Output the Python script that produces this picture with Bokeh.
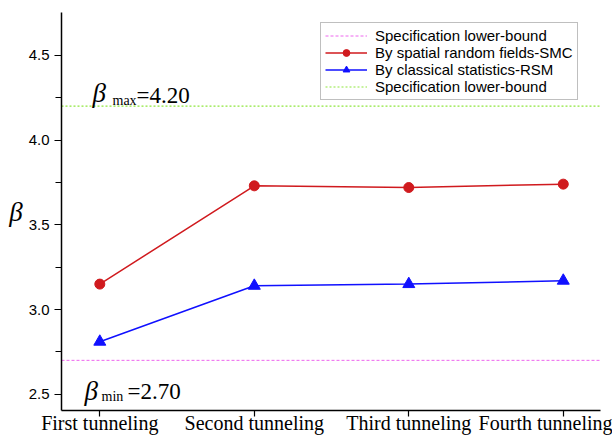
from bokeh.plotting import figure
from bokeh.models import (Range1d, FixedTicker, Legend, LegendItem, Label,
                          PrintfTickFormatter)
from bokeh.embed import file_html
from bokeh.resources import INLINE

# ---- data ----
categories = ["First tunneling", "Second tunneling", "Third tunneling", "Fourth tunneling"]
smc_values = [3.15, 3.73, 3.72, 3.74]
rsm_values = [2.81, 3.14, 3.15, 3.17]
beta_max = 4.20
beta_min = 2.70
y_ticks = [2.5, 3.0, 3.5, 4.0, 4.5]
y_minor = [2.75, 3.25, 3.75, 4.25]
legend_labels = ["Specification lower-bound", "By spatial random fields-SMC",
                 "By classical statistics-RSM", "Specification lower-bound"]

x_idx = list(range(len(categories)))
X0, X1 = -0.248, 3.241
Y0, Y1 = 2.404, 4.753

SERIF = "Liberation Serif"
SANS = "Liberation Sans"

p = figure(width=612, height=439, output_backend="svg", toolbar_location=None,
           x_range=Range1d(X0, X1), y_range=Range1d(Y0, Y1),
           min_border_left=61, min_border_right=12, min_border_top=12, min_border_bottom=29)
p.outline_line_color = None
p.grid.visible = False
p.background_fill_color = "white"
p.border_fill_color = "white"

# x axis
xa = p.xaxis[0]
xa.ticker = FixedTicker(ticks=x_idx, minor_ticks=[])
xa.major_label_overrides = {i: c for i, c in zip(x_idx, categories)}
xa.major_label_text_font = SERIF
xa.major_label_text_font_size = "20px"
xa.major_label_text_color = "black"
xa.major_label_standoff = -5
xa.major_tick_out = 6
xa.major_tick_in = 0
xa.minor_tick_out = 0
xa.axis_line_width = 1.5
xa.axis_line_color = "black"
xa.major_tick_line_color = "black"
xa.major_tick_line_width = 1.2

# y axis
ya = p.yaxis[0]
ya.ticker = FixedTicker(ticks=y_ticks, minor_ticks=y_minor)
ya.formatter = PrintfTickFormatter(format="%.1f")
ya.major_label_text_font = SANS
ya.major_label_text_font_size = "15px"
ya.major_label_text_color = "black"
ya.major_tick_out = 7
ya.major_tick_in = 0
ya.minor_tick_out = 6
ya.minor_tick_in = 0
ya.major_label_standoff = 5
ya.axis_line_width = 1.5
ya.axis_line_color = "black"
ya.major_tick_line_color = "black"
ya.minor_tick_line_color = "black"
ya.major_tick_line_width = 1.2
ya.minor_tick_line_width = 1.2
ya.axis_label = "β"
ya.axis_label_orientation = "horizontal"
ya.axis_label_text_font = SERIF
ya.axis_label_text_font_style = "italic"
ya.axis_label_text_font_size = "27px"
ya.axis_label_text_color = "black"
ya.axis_label_standoff = 3

# reference lines
r_min = p.line([X0, X1], [beta_min, beta_min], line_color="#ee66ee", line_width=1,
               line_dash="3 2")
r_max = p.line([X0, X1], [beta_max, beta_max], line_color="#8ee63c", line_width=1.2,
               line_dash="2 2")

# series
r_smc = p.line(x_idx, smc_values, line_color="#d01a1e", line_width=1.5)
m_smc = p.scatter(x_idx, smc_values, marker="circle", size=10, fill_color="#d01a1e",
                  line_color="#d01a1e")
r_rsm = p.line(x_idx, rsm_values, line_color="#1010ff", line_width=1.5)
m_rsm = p.scatter(x_idx, rsm_values, marker="triangle", size=12, fill_color="#1010ff",
                  line_color="#1010ff")

legend = Legend(items=[
    LegendItem(label=legend_labels[0], renderers=[r_min]),
    LegendItem(label=legend_labels[1], renderers=[r_smc, m_smc]),
    LegendItem(label=legend_labels[2], renderers=[r_rsm, m_rsm]),
    LegendItem(label=legend_labels[3], renderers=[r_max]),
], location=(259, 310))
legend.label_text_font = SANS
legend.label_text_font_size = "15px"
legend.label_text_color = "black"
legend.glyph_width = 42
legend.glyph_height = 17
legend.label_height = 17
legend.spacing = 0
legend.padding = 4
legend.margin = 0
legend.label_standoff = 8
legend.border_line_color = "#7f7f7f"
legend.border_line_width = 1
legend.background_fill_color = "white"
legend.background_fill_alpha = 1
p.add_layout(legend, "center")

# annotations
def lab(text, x, y, yoff, size, style="normal"):
    p.add_layout(Label(x=x, y=y, x_units="screen", y_units="data", y_offset=yoff,
                       text=text, text_font=SERIF, text_font_size=size,
                       text_font_style=style, text_color="black",
                       text_baseline="alphabetic", text_align="left"))

lab("β", 31, beta_max, 13.3, "27px", "italic")
lab("max", 51, beta_max, 6, "14px")
lab(f"={beta_max:.2f}", 75, beta_max, 11, "23px")
lab("β", 23, beta_min, -30.3, "27px", "italic")
lab("min", 40, beta_min, -36, "14px")
lab(f"={beta_min:.2f}", 66, beta_min, -31.6, "23px")

open("out.html", "w").write(file_html(p, INLINE))
